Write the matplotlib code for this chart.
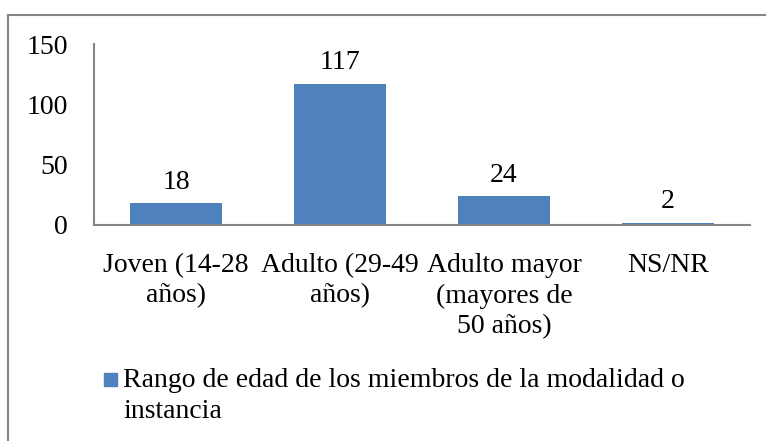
import matplotlib
matplotlib.use("Agg")
import matplotlib.pyplot as plt
from matplotlib.patches import Rectangle
from matplotlib.lines import Line2D

# data
categories = ["Joven (14-28\naños)", "Adulto (29-49\naños)",
              "Adulto mayor\n(mayores de\n50 años)", "NS/NR"]
values = [18, 117, 24, 2]
series_name = "Rango de edad de los miembros de la modalidad o\ninstancia"
yticks = [0, 50, 100, 150]

bar_color = "#4F81BD"
axis_color = "#868686"
fs = 20

plt.rcParams['font.family'] = ['Liberation Serif', 'DejaVu Serif']

W, H = 766, 441
fig = plt.figure(figsize=(W / 100, H / 100), dpi=100)

# outer chart border (top and left edges visible)
fig.add_artist(Line2D([8 / W, 1], [1 - 15 / H, 1 - 15 / H], color=axis_color, lw=1.5))
fig.add_artist(Line2D([8 / W, 8 / W], [0, 1 - 15 / H], color=axis_color, lw=1.5))

ax = fig.add_axes([94 / W, (H - 225) / H, 656 / W, 181 / H])
x = list(range(len(values)))
bars = ax.bar(x, values, width=0.56, color=bar_color, edgecolor="none")
ax.bar_label(bars, labels=[str(v) for v in values], padding=6, fontsize=fs)

ax.set_xlim(-0.5, len(values) - 0.5)
ax.set_ylim(0, 150)
ax.set_yticks(yticks)
ax.set_yticklabels([str(t) for t in yticks], fontsize=fs)
ax.set_xticks(x)
ax.set_xticklabels(categories, fontsize=fs, linespacing=1.3, va="top")
ax.tick_params(axis="y", length=0, pad=19)
ax.tick_params(axis="x", length=0, pad=20)

for s in ["top", "right"]:
    ax.spines[s].set_visible(False)
for s in ["left", "bottom"]:
    ax.spines[s].set_color(axis_color)
    ax.spines[s].set_linewidth(1.5)

# legend
fig.add_artist(Rectangle((104 / W, 1 - 386 / H), 13 / W, 13 / H,
                         transform=fig.transFigure, color=bar_color))
fig.text(123 / W, 1 - 368 / H, series_name, fontsize=fs, va="top", ha="left",
         linespacing=1.3)

fig.savefig("out.png", dpi=100)
